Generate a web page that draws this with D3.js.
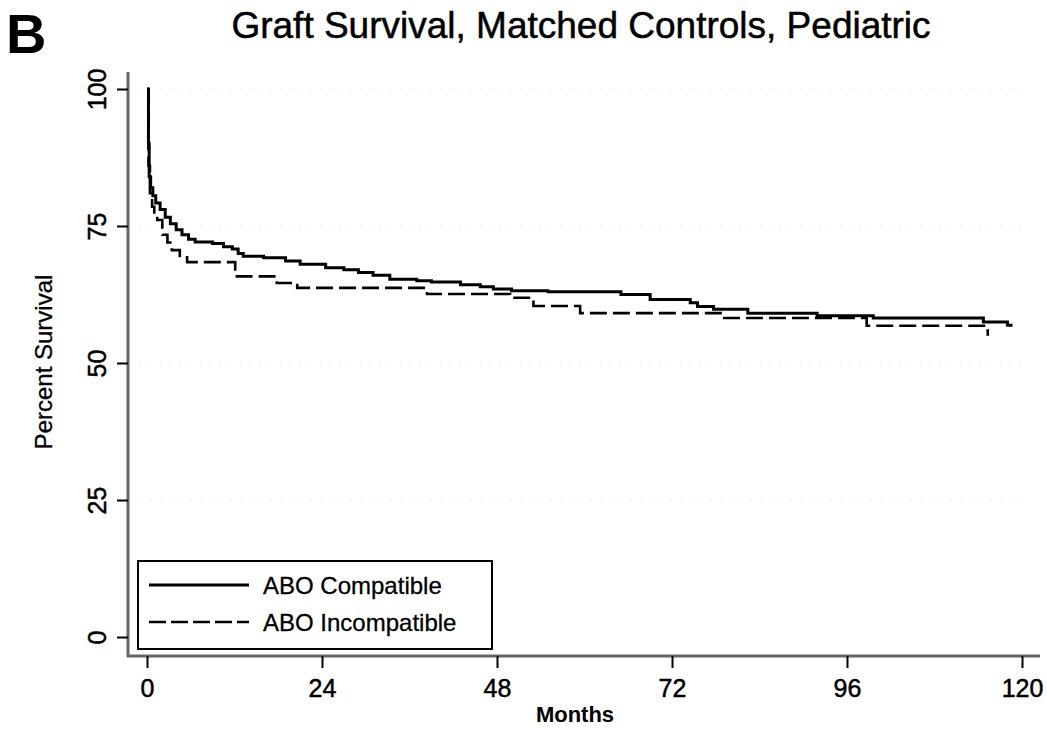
<!DOCTYPE html>
<html>
  <head>
    <meta charset="utf-8" />
    <script src="https://cdn.jsdelivr.net/npm/d3@7"></script>
    <style>
      body { margin: 0; background: #fff; }
      text { font-family: "Liberation Sans", Arial, sans-serif; fill: #000; }
    </style>
  </head>
  <body>
    <div id="container"></div>
    <script>
      // months / percent survival (Kaplan-Meier steps)
      const compatTime = [0, 0.2, 0.3, 0.5, 0.8, 1.2, 1.8, 2.5, 3.2, 4, 4.8, 5.7, 6.6, 9, 10.5, 11.7, 12.5, 13.2, 16, 19, 21, 24.5, 27, 29, 31, 33.3, 37, 39, 43, 45.7, 47.5, 50, 55, 65, 69, 74.5, 75.5, 77.7, 82.4, 91.9, 99.6, 114.7, 118, 118.7];
      const compatSurv = [100, 90, 84, 82, 80.5, 79.2, 78, 76.6, 75.4, 74.3, 73.4, 72.6, 72.1, 71.8, 71.2, 70.8, 70, 69.5, 69.2, 68.6, 68, 67.4, 67, 66.5, 66, 65.3, 65, 64.8, 64.3, 63.9, 63.5, 63.2, 63, 62.5, 61.6, 61, 60.3, 59.8, 59.1, 58.6, 58.2, 57.5, 56.9, 56.9];

      const incompTime = [0, 0.2, 0.4, 0.7, 1, 1.4, 2.1, 2.8, 3.4, 4.5, 5.5, 12.1, 17.8, 20.6, 38.4, 49.8, 53, 59.4, 78.9, 98.7, 115.3, 115.5];
      const incompSurv = [100, 86, 81, 78.5, 77, 76.1, 73.4, 72, 70.6, 69.3, 68.4, 65.8, 64.6, 63.7, 62.6, 61.9, 60.4, 59.1, 58.2, 56.8, 55.2, 55.2];

      const xTicks = [0, 24, 48, 72, 96, 120];
      const yTicks = [0, 25, 50, 75, 100];
      const seriesNames = ["ABO Compatible", "ABO Incompatible"];

      const W = 1047, H = 729;
      const svg = d3.select("#container").append("svg")
        .attr("width", W).attr("height", H)
        .style("background", "#fff");

      const x = d3.scaleLinear().domain([0, 120]).range([147, 1022]);
      const y = d3.scaleLinear().domain([0, 100]).range([637, 89]);

      // panel letter + title
      svg.append("text").attr("x", 6).attr("y", 53)
        .style("font-size", "56px").style("font-weight", "bold")
        .text("B");
      svg.append("text").attr("x", 581).attr("y", 38)
        .attr("text-anchor", "middle")
        .style("font-size", "37px")
        .attr("stroke", "#000").attr("stroke-width", 0.5)
        .text("Graft Survival, Matched Controls, Pediatric");

      // faint dotted grid
      svg.append("g").selectAll("line").data(yTicks.slice(1)).join("line")
        .attr("x1", 140).attr("x2", 1030)
        .attr("y1", d => y(d)).attr("y2", d => y(d))
        .attr("stroke", "#d8d8d8").attr("stroke-width", 1)
        .attr("stroke-dasharray", "1,9");

      // axis lines (offset from the data like Stata)
      svg.append("line").attr("x1", 128).attr("x2", 128).attr("y1", 72).attr("y2", 657)
        .attr("stroke", "#666").attr("stroke-width", 3);
      svg.append("line").attr("x1", 127).attr("x2", 1040).attr("y1", 656).attr("y2", 656)
        .attr("stroke", "#666").attr("stroke-width", 3);

      // y axis ticks
      const yAxis = svg.append("g").attr("transform", "translate(128,0)")
        .call(d3.axisLeft(y).tickValues(yTicks).tickSize(11).tickSizeOuter(0).tickPadding(0));
      yAxis.select(".domain").remove();
      yAxis.selectAll(".tick line").attr("stroke", "#000").attr("stroke-width", 2);
      yAxis.selectAll(".tick text")
        .attr("x", 0).attr("y", 0).attr("dy", null)
        .attr("text-anchor", "middle")
        .attr("transform", "translate(-22,0) rotate(-90)")
        .style("font-size", "25px").style("font-family", "Liberation Sans, Arial, sans-serif")
        .attr("stroke", "#000").attr("stroke-width", 0.5);

      // x axis ticks
      const xAxis = svg.append("g").attr("transform", "translate(0,656)")
        .call(d3.axisBottom(x).tickValues(xTicks).tickSize(12).tickSizeOuter(0).tickPadding(11));
      xAxis.select(".domain").remove();
      xAxis.selectAll(".tick line").attr("stroke", "#000").attr("stroke-width", 2);
      xAxis.selectAll(".tick text")
        .style("font-size", "25px").style("font-family", "Liberation Sans, Arial, sans-serif")
        .attr("stroke", "#000").attr("stroke-width", 0.5);

      // axis titles
      svg.append("text").attr("transform", "translate(52,362) rotate(-90)")
        .attr("text-anchor", "middle")
        .style("font-size", "24px")
        .attr("stroke", "#000").attr("stroke-width", 0.3)
        .text("Percent Survival");
      svg.append("text").attr("x", 575).attr("y", 722)
        .attr("text-anchor", "middle")
        .style("font-size", "22px").style("font-weight", "bold")
        .text("Months");

      // survival curves
      const line = d3.line()
        .x(d => x(d[0]))
        .y(d => y(d[1]))
        .curve(d3.curveStepAfter);

      const compat = compatTime.map((t, i) => [t, compatSurv[i]]);
      const incomp = incompTime.map((t, i) => [t, incompSurv[i]]);

      svg.append("path").attr("d", line(incomp))
        .attr("fill", "none").attr("stroke", "#000")
        .attr("stroke-width", 2.6).attr("stroke-dasharray", "17,6");
      svg.append("path").attr("d", line(compat))
        .attr("fill", "none").attr("stroke", "#000")
        .attr("stroke-width", 3);

      // legend
      const leg = svg.append("g");
      leg.append("rect").attr("x", 138).attr("y", 561).attr("width", 354).attr("height", 88)
        .attr("fill", "#fff").attr("stroke", "#000").attr("stroke-width", 2);
      const rows = leg.selectAll("g.row").data(seriesNames).join("g")
        .attr("class", "row")
        .attr("transform", (d, i) => `translate(0,${585 + i * 37})`);
      rows.append("line").attr("x1", 149).attr("x2", 249).attr("y1", 0).attr("y2", 0)
        .attr("stroke", "#000")
        .attr("stroke-width", (d, i) => i ? 2.6 : 3)
        .attr("stroke-dasharray", (d, i) => i ? "17,5" : null);
      rows.append("text").attr("x", 263).attr("y", 9)
        .style("font-size", "24px")
        .attr("stroke", "#000").attr("stroke-width", 0.3)
        .text(d => d);
    </script>
  </body>
</html>
